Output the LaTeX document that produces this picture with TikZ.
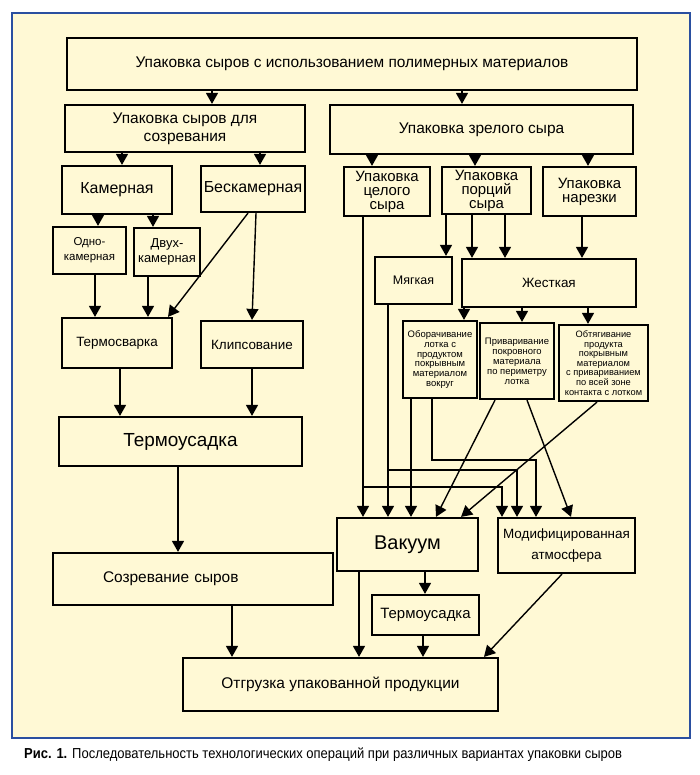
\documentclass[tikz,border=0pt]{standalone}
\usepackage{fontspec}
\setmainfont{Liberation Sans}
\newfontfamily\capfont[FakeStretch=0.9]{Liberation Sans}
\usetikzlibrary{arrows.meta}
\definecolor{panel}{HTML}{FFF9D5}
\definecolor{frame}{HTML}{2A4FA0}
\newcommand\myfs[2]{\fontsize{#1}{#2}\selectfont}
\begin{document}
\begin{tikzpicture}[x=1bp,y=-1bp,
  box/.style={draw=black, line width=2.2bp, fill=panel, inner sep=0pt, align=center},
  arr/.style={line width=1.4bp, -{Triangle[width=12bp,length=11bp]}},
  ln/.style={line width=1.4bp}]
\useasboundingbox (0,0) rectangle (700,775);
\fill[white] (0,0) rectangle (700,775);
\draw[frame, fill=panel, line width=2.5bp] (12,13) rectangle (690,738);
% left branch
\node[box, minimum width=570bp, minimum height=52bp, font=\myfs{15.5}{17}] (top) at (352,64) {Упаковка сыров с использованием полимерных материалов};
\node[box, minimum width=240bp, minimum height=47bp, font=\myfs{15.5}{18}] (mat) at (185,128.5) {Упаковка сыров для\\созревания};
\node[box, minimum width=303bp, minimum height=49bp, font=\myfs{15.5}{17}] (ripe) at (481.5,129.5) {Упаковка зрелого сыра};
\node[box, minimum width=110bp, minimum height=48bp, font=\myfs{16}{18}] (kam) at (117,190) {Камерная};
\node[box, minimum width=104bp, minimum height=46bp, font=\myfs{16}{18}] (beskam) at (253,189) {Бескамерная};
\node[box, minimum width=73bp, minimum height=47bp, font=\myfs{11.5}{15}] (odno) at (89.5,250.5) {Одно-\\камерная};
\node[box, minimum width=66bp, minimum height=48bp, font=\myfs{13}{15}] (dvuh) at (167,252) {Двух-\\камерная};
\node[box, minimum width=110bp, minimum height=50bp, font=\myfs{13.5}{16}] (tsvar) at (117,343) {Термосварка};
\node[box, minimum width=102bp, minimum height=47bp, font=\myfs{13.5}{16}] (klips) at (252,344.5) {Клипсование};
\node[box, minimum width=243bp, minimum height=49bp, font=\myfs{19}{22}] (tus1) at (180.5,441.5) {Термоусадка};
\node[box, minimum height=52bp, text width=180bp, align=left, inner xsep=50bp, font=\myfs{15.5}{17}] (sozr) at (193,579) {Созревание сыров};
\node[box, minimum width=315bp, minimum height=53bp, font=\myfs{15.5}{17}] (otgr) at (340.5,684.5) {Отгрузка упакованной продукции};
% right branch
\node[box, minimum width=86bp, minimum height=49bp, font=\myfs{15}{14}] (cel) at (387,191.5) {Упаковка\\целого\\сыра};
\node[box, minimum width=89bp, minimum height=47bp, font=\myfs{15}{14}] (porc) at (486.5,190.5) {Упаковка\\порций\\сыра};
\node[box, minimum width=93bp, minimum height=49bp, font=\myfs{15}{14}] (nar) at (589.5,191.5) {Упаковка\\нарезки};
\node[box, minimum width=77bp, minimum height=47bp, font=\myfs{12.5}{15}] (myag) at (413.5,280.5) {Мягкая};
\node[box, minimum width=174bp, minimum height=48bp, font=\myfs{13.5}{16}] (zhest) at (549,283) {Жесткая};
\node[box, minimum width=74bp, minimum height=77bp, font=\myfs{9.5}{9.8}] (obor) at (440,359.5) {Оборачивание\\лотка с\\продуктом\\покрывным\\материалом\\вокруг};
\node[box, minimum width=74bp, minimum height=76bp, font=\myfs{9.5}{10}] (priv) at (517,361) {Приваривание\\покровного\\материала\\по периметру\\лотка};
\node[box, minimum width=89bp, minimum height=76bp, font=\myfs{9.3}{9.6}] (obt) at (603.5,363) {Обтягивание\\продукта\\покрывным\\материалом\\с привариванием\\по всей зоне\\контакта с лотком};
\node[box, minimum width=141bp, minimum height=53bp, font=\myfs{20}{22}] (vak) at (407.5,544.5) {Вакуум};
\node[box, minimum width=137bp, minimum height=55bp, font=\myfs{13.5}{21}] (mod) at (566.5,545.5) {Модифицированная\\атмосфера};
\node[box, minimum width=107bp, minimum height=40bp, font=\myfs{15}{17}] (tus2) at (425.5,615) {Термоусадка};
% caption
\node[anchor=west, inner sep=0pt, font=\capfont\myfs{14.5}{16}] (cap) at (24,755) {\textbf{Рис. 1.} Последовательность технологических операций при различных вариантах упаковки сыров};
% connectors left
\draw[arr] (top.south -| 212,0) -- (mat.north -| 212,0);
\draw[arr] (top.south -| 462,0) -- (ripe.north -| 462,0);
\draw[arr] (mat.south -| 122,0) -- (kam.north -| 122,0);
\draw[arr] (mat.south -| 260,0) -- (beskam.north -| 260,0);
\draw[arr] (kam.south -| 98,0) -- (odno.north -| 98,0);
\draw[arr] (kam.south -| 153,0) -- (dvuh.north -| 153,0);
\draw[arr] (odno.south -| 95,0) -- (tsvar.north -| 95,0);
\draw[arr] (dvuh.south -| 148,0) -- (tsvar.north -| 148,0);
\draw[arr] (beskam.south -| 248,0) -- (tsvar.north -| 168,0);
\draw[arr] (beskam.south -| 256,0) -- (klips.north -| 252,0);
\draw[arr] (tsvar.south -| 120,0) -- (tus1.north -| 120,0);
\draw[arr] (klips.south -| 252,0) -- (tus1.north -| 252,0);
\draw[arr] (tus1.south -| 178,0) -- (sozr.north -| 178,0);
\draw[arr] (sozr.south -| 232,0) -- (otgr.north -| 232,0);
% connectors right
\draw[arr] (ripe.south -| 372,0) -- (cel.north -| 372,0);
\draw[arr] (ripe.south -| 475,0) -- (porc.north -| 475,0);
\draw[arr] (ripe.south -| 588,0) -- (nar.north -| 588,0);
\draw[arr] (porc.south -| 446,0) -- (myag.north -| 446,0);
\draw[arr] (porc.south -| 472,0) -- (zhest.north -| 472,0);
\draw[arr] (porc.south -| 505,0) -- (zhest.north -| 505,0);
\draw[arr] (nar.south -| 582,0) -- (zhest.north -| 582,0);
\draw[arr] (zhest.south -| 464,0) -- (obor.north -| 464,0);
\draw[arr] (zhest.south -| 522,0) -- (priv.north -| 522,0);
\draw[arr] (zhest.south -| 588,0) -- (obt.north -| 588,0);
\draw[arr] (cel.south -| 363,0) -- (vak.north -| 363,0);
\draw[arr] (cel.south -| 363,0) -- (363,487) -| (mod.north -| 502,0);
\draw[arr] (myag.south -| 388,0) -- (vak.north -| 388,0);
\draw[arr] (myag.south -| 388,0) -- (388,470) -| (mod.north -| 517,0);
\draw[arr] (obor.south -| 411,0) -- (vak.north -| 411,0);
\draw[arr] (obor.south -| 432,0) -- (432,460) -| (mod.north -| 536,0);
\draw[arr] (priv.south -| 495,0) -- (vak.north -| 436,0);
\draw[arr] (priv.south -| 527,0) -- (mod.north -| 571,0);
\draw[arr] (obt.south -| 597,0) -- (vak.north -| 461,0);
\draw[arr] (vak.south -| 425,0) -- (tus2.north -| 425,0);
\draw[arr] (vak.south -| 359,0) -- (otgr.north -| 359,0);
\draw[arr] (tus2.south -| 423,0) -- (otgr.north -| 423,0);
\draw[arr] (mod.south -| 562,0) -- (otgr.north -| 484,0);
\end{tikzpicture}
\end{document}
